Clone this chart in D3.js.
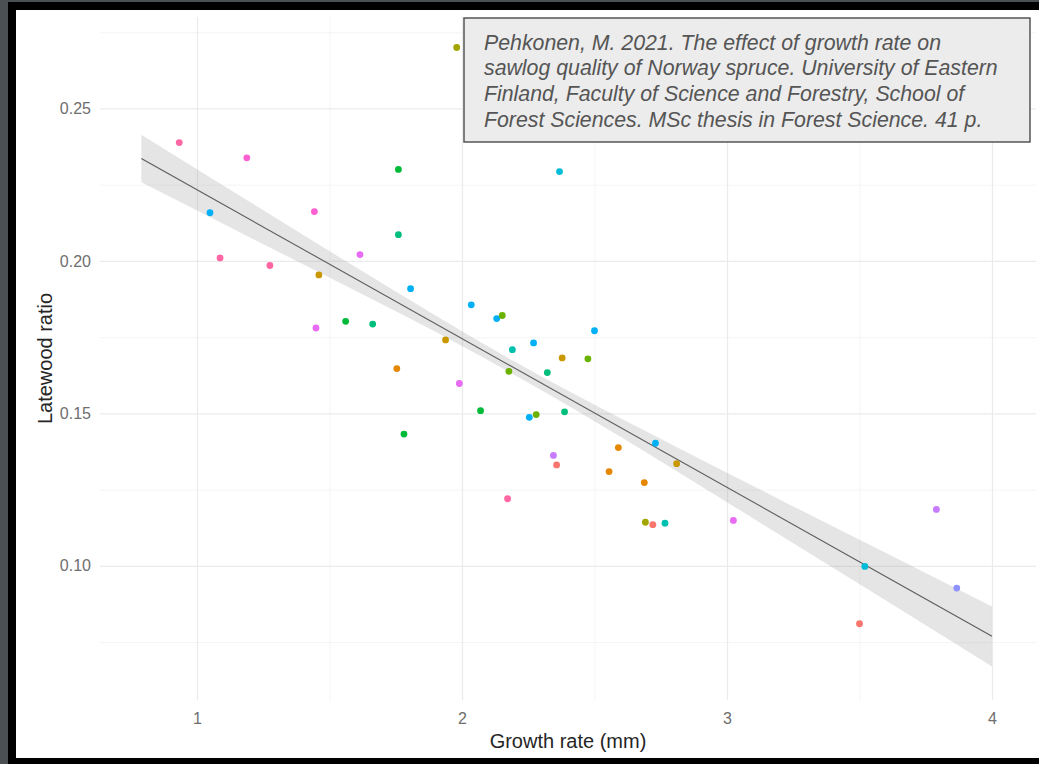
<!DOCTYPE html>
<html>
<head>
<meta charset="utf-8">
<script src="https://cdn.jsdelivr.net/npm/d3@7"></script>
<style>
  html, body { margin: 0; padding: 0; background: #4b5053; }
  svg { display: block; }
</style>
</head>
<body>
<svg id="chart" width="1039" height="764"></svg>
<script>
// ---- Data ----
const growthRate = [0.933, 1.98, 1.188, 1.76, 1.049, 1.443, 1.76, 1.615, 1.087, 1.275,
  1.46, 1.806, 2.035, 2.131, 2.152, 1.449, 1.561, 1.663, 1.938, 2.19,
  1.754, 2.177, 1.99, 2.07, 1.781, 2.172, 2.5, 2.27, 2.378, 2.475,
  2.322, 2.254, 2.28, 2.387, 2.345, 2.357, 2.59, 2.73, 2.81, 2.555,
  2.688, 3.79, 2.692, 2.72, 2.766, 3.024, 3.52, 3.867, 3.50, 2.368];
const latewoodRatio = [0.2388, 0.270, 0.2338, 0.230, 0.2158, 0.2162, 0.2086, 0.2021, 0.2010, 0.1985,
  0.1954, 0.1909, 0.1856, 0.1811, 0.1821, 0.1780, 0.1802, 0.1793, 0.1741, 0.1709,
  0.1647, 0.1638, 0.1598, 0.1509, 0.1432, 0.1220, 0.1771, 0.1731, 0.1682, 0.1679,
  0.1634, 0.1487, 0.1496, 0.1505, 0.1362, 0.1331, 0.1388, 0.1402, 0.1335, 0.1309,
  0.1273, 0.1185, 0.1143, 0.1135, 0.1140, 0.1149, 0.0998, 0.0927, 0.0810, 0.2293];
// group index of each point (ggplot hue palette, 15 groups)
const pointGroup = [14, 3, 13, 5, 9, 13, 6, 12, 14, 14,
  2, 9, 9, 9, 4, 12, 5, 6, 2, 7,
  1, 4, 12, 5, 5, 14, 9, 9, 2, 4,
  6, 9, 4, 6, 11, 0, 1, 9, 2, 1,
  1, 11, 3, 0, 7, 12, 8, 10, 0, 8];
const groupColors = ["#F8766D", "#E58700", "#C99800", "#A3A500", "#6BB100",
  "#00BA38", "#00BF7D", "#00C0AF", "#00BCD8", "#00B0F6",
  "#8F91FF", "#C77CFF", "#E76BF3", "#FD61D1", "#FF67A4"];

// Linear fit and its confidence band
const bandX    = [0.79, 1.2, 1.6, 2.0, 2.2, 2.4, 2.8, 3.2, 3.6, 4.0];
const fitY     = [0.2336, 0.2135, 0.1940, 0.1745, 0.1647, 0.1550, 0.1355, 0.1159, 0.0964, 0.0769];
const bandLow  = [0.2258, 0.2077, 0.1901, 0.1721, 0.1625, 0.1526, 0.1316, 0.1101, 0.0886, 0.0670];
const bandHigh = [0.2414, 0.2193, 0.1979, 0.1769, 0.1669, 0.1574, 0.1394, 0.1217, 0.1042, 0.0867];

const xMajorTicks = [1, 2, 3, 4];
const xMinorTicks = [1.5, 2.5, 3.5];
const yMajorTicks = [0.10, 0.15, 0.20, 0.25];
const yMinorTicks = [0.075, 0.125, 0.175, 0.225, 0.275];

const citationLines = [
  "Pehkonen, M. 2021. The effect of growth rate on",
  "sawlog quality of Norway spruce. University of Eastern",
  "Finland, Faculty of Science and Forestry, School of",
  "Forest Sciences. MSc thesis in Forest Science. 41 p."
];

// ---- Drawing ----
const svg = d3.select("#chart");
const W = 1039, H = 764;
const FONT = "'Liberation Sans', Arial, Helvetica, sans-serif";

// frame: dark gray outer, black border, white page
svg.append("rect").attr("x", 0).attr("y", 0).attr("width", W).attr("height", H).attr("fill", "#4b5053");
svg.append("rect").attr("x", 8).attr("y", 2).attr("width", W - 8).attr("height", H - 2).attr("fill", "#000");
svg.append("rect").attr("x", 16).attr("y", 10).attr("width", W - 16).attr("height", 748).attr("fill", "#fff");

const panel = { left: 100, right: 1036, top: 17, bottom: 700 };
const x = d3.scaleLinear().domain([0.634, 4.166]).range([panel.left, panel.right]);
const y = d3.scaleLinear().domain([0.056, 0.280]).range([panel.bottom, panel.top]);

const g = svg.append("g");

// minor gridlines
g.append("g").attr("transform", `translate(0,${panel.bottom})`)
  .call(d3.axisBottom(x).tickValues(xMinorTicks).tickSize(-(panel.bottom - panel.top)).tickFormat(""))
  .call(s => s.select(".domain").remove())
  .call(s => s.selectAll("line").attr("stroke", "#f3f3f3").attr("stroke-width", 0.8));
g.append("g").attr("transform", `translate(${panel.left},0)`)
  .call(d3.axisLeft(y).tickValues(yMinorTicks).tickSize(-(panel.right - panel.left)).tickFormat(""))
  .call(s => s.select(".domain").remove())
  .call(s => s.selectAll("line").attr("stroke", "#f3f3f3").attr("stroke-width", 0.8));
// major gridlines
g.append("g").attr("transform", `translate(0,${panel.bottom})`)
  .call(d3.axisBottom(x).tickValues(xMajorTicks).tickSize(-(panel.bottom - panel.top)).tickFormat(""))
  .call(s => s.select(".domain").remove())
  .call(s => s.selectAll("line").attr("stroke", "#ebebeb").attr("stroke-width", 1.2));
g.append("g").attr("transform", `translate(${panel.left},0)`)
  .call(d3.axisLeft(y).tickValues(yMajorTicks).tickSize(-(panel.right - panel.left)).tickFormat(""))
  .call(s => s.select(".domain").remove())
  .call(s => s.selectAll("line").attr("stroke", "#ebebeb").attr("stroke-width", 1.2));

// axis tick labels
g.append("g").attr("transform", `translate(0,${panel.bottom})`)
  .call(d3.axisBottom(x).tickValues(xMajorTicks).tickSize(0).tickPadding(13).tickFormat(d3.format("d")))
  .call(s => s.select(".domain").remove())
  .call(s => s.selectAll("text").attr("fill", "#6e6e6e").attr("font-size", 16).attr("font-family", FONT));
g.append("g").attr("transform", `translate(${panel.left},0)`)
  .call(d3.axisLeft(y).tickValues(yMajorTicks).tickSize(0).tickPadding(9).tickFormat(d3.format(".2f")))
  .call(s => s.select(".domain").remove())
  .call(s => s.selectAll("text").attr("fill", "#6e6e6e").attr("font-size", 16).attr("font-family", FONT));

// axis titles
svg.append("text").attr("x", (panel.left + panel.right) / 2).attr("y", 748)
  .attr("text-anchor", "middle").attr("font-family", FONT).attr("font-size", 20).attr("fill", "#262626")
  .text("Growth rate (mm)");
svg.append("text").attr("transform", `translate(52,${(panel.top + panel.bottom) / 2}) rotate(-90)`)
  .attr("text-anchor", "middle").attr("font-family", FONT).attr("font-size", 20).attr("fill", "#262626")
  .text("Latewood ratio");

// confidence band and fit line
const bandData = bandX.map((d, i) => ({ x: d, lo: bandLow[i], hi: bandHigh[i], f: fitY[i] }));
g.append("path").datum(bandData)
  .attr("d", d3.area().x(d => x(d.x)).y0(d => y(d.lo)).y1(d => y(d.hi)).curve(d3.curveMonotoneX))
  .attr("fill", "#999999").attr("fill-opacity", 0.25);
g.append("path").datum([bandData[0], bandData[bandData.length - 1]])
  .attr("d", d3.line().x(d => x(d.x)).y(d => y(d.f)))
  .attr("fill", "none").attr("stroke", "#5c5c5c").attr("stroke-width", 1.1);

// points
const pts = growthRate.map((v, i) => ({ x: v, y: latewoodRatio[i], c: groupColors[pointGroup[i]] }));
g.append("g").selectAll("circle").data(pts).join("circle")
  .attr("cx", d => x(d.x)).attr("cy", d => y(d.y)).attr("r", 3.4)
  .attr("fill", d => d.c);

// citation box
const box = svg.append("g");
box.append("rect").attr("x", 464).attr("y", 18).attr("width", 566).attr("height", 124)
  .attr("fill", "#ececec").attr("stroke", "#555").attr("stroke-width", 1.5);
box.selectAll("text").data(citationLines).join("text")
  .attr("x", 484).attr("y", (d, i) => 49.5 + i * 25.8)
  .attr("font-family", FONT).attr("font-style", "italic").attr("font-size", 21.3)
  .attr("fill", "#555").text(d => d);
</script>
</body>
</html>
